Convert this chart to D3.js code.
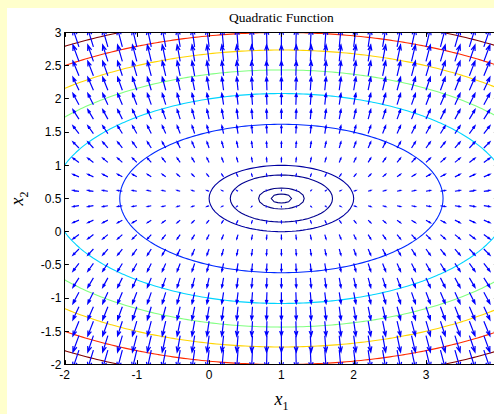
<!DOCTYPE html>
<html>
<head>
<meta charset="utf-8">
<script src="https://cdn.jsdelivr.net/npm/d3@7"></script>
<style>
  html, body { margin: 0; padding: 0; background: #ffffcc; }
  svg { display: block; }
</style>
</head>
<body>
<div id="chart"></div>
<script>
const center = [1, 0.5];
const weights = [1, 4];
const levels = [0.02, 0.1, 0.5, 1, 5, 10, 15, 20, 25, 30];
const colorLimits = [0, 30];
const xTicks = [-2, -1, 0, 1, 2, 3];
const yTicks = [-2, -1.5, -1, -0.5, 0, 0.5, 1, 1.5, 2, 2.5, 3];
const xDomain = [-2, 4];
const yDomain = [-2, 3];
const quiverX = [-2, 4, 31];   // start, stop, count
const quiverY = [-2, 3, 24];
const title = 'Quadratic Function';

const width = 494, height = 414;
const plotLeft = 64.5, plotTop = 32.5, plotBottom = 364.5, pxPerX = 72.3;

const f = (a, b) => weights[0] * (a - center[0]) ** 2 + weights[1] * (b - center[1]) ** 2;
const grad = (a, b) => [2 * weights[0] * (a - center[0]), 2 * weights[1] * (b - center[1])];

// matlab jet
function jet(t) {
  const c = v => Math.max(0, Math.min(1, v));
  const r = c(1.5 - Math.abs(4 * t - 3)), g = c(1.5 - Math.abs(4 * t - 2)), b = c(1.5 - Math.abs(4 * t - 1));
  return d3.rgb(r * 255, g * 255, b * 255).formatHex();
}

const x = d3.scaleLinear().domain(xDomain).range([plotLeft, plotLeft + pxPerX * (xDomain[1] - xDomain[0])]);
const y = d3.scaleLinear().domain(yDomain).range([plotBottom, plotTop]);
const plotRight = x.range()[1];

const svg = d3.select('#chart').append('svg')
  .attr('width', width).attr('height', height);

svg.append('rect').attr('x', 7).attr('y', 8)
  .attr('width', width - 7).attr('height', height - 8).attr('fill', '#ffffff');

svg.append('defs').append('clipPath').attr('id', 'plot-clip')
  .append('rect').attr('x', plotLeft).attr('y', plotTop)
  .attr('width', plotRight - plotLeft).attr('height', plotBottom - plotTop);

const plot = svg.append('g').attr('clip-path', 'url(#plot-clip)');

// contours on a fine grid larger than the axes so the open ones don't close along the box
const step = 0.05, gx0 = -3, gy0 = -3, nx = 161, ny = 141;
const values = new Array(nx * ny);
for (let j = 0; j < ny; j++)
  for (let i = 0; i < nx; i++)
    values[j * nx + i] = f(gx0 + i * step, gy0 + j * step);

const contours = d3.contours().size([nx, ny]).thresholds(levels)(values);
const proj = d3.geoTransform({
  point: function(px, py) {
    this.stream.point(x(gx0 + (px - 0.5) * step), y(gy0 + (py - 0.5) * step));
  }
});
const color = v => jet((v - colorLimits[0]) / (colorLimits[1] - colorLimits[0]));

plot.selectAll('.contour')
  .data(contours)
  .enter().append('path')
  .attr('class', 'contour')
  .attr('d', d3.geoPath(proj))
  .attr('fill', 'none')
  .attr('stroke', d => color(d.value))
  .attr('stroke-width', 1.1);

// quiver, autoscaled roughly the way matlab does it
const qx = d3.range(quiverX[2]).map(i => quiverX[0] + i * (quiverX[1] - quiverX[0]) / (quiverX[2] - 1));
const qy = d3.range(quiverY[2]).map(j => quiverY[0] + j * (quiverY[1] - quiverY[0]) / (quiverY[2] - 1));
const pts = [];
qy.forEach(b => qx.forEach(a => { const g = grad(a, b); pts.push({ a, b, u: g[0], v: g[1] }); }));

const delx = (quiverX[1] - quiverX[0]) / quiverX[2];
const dely = (quiverY[1] - quiverY[0]) / quiverY[2];
const del = delx * delx + dely * dely;
const maxlen = d3.max(pts, p => Math.sqrt((p.u * p.u + p.v * p.v) / del));
const scale = 1.1 / maxlen;
const alpha = 0.33, beta = 0.33;

function arrowPath(p) {
  const u = p.u * scale, v = p.v * scale;
  const tx = p.a + u, ty = p.b + v;
  const h1 = [tx - alpha * (u + beta * v), ty - alpha * (v - beta * u)];
  const h2 = [tx - alpha * (u - beta * v), ty - alpha * (v + beta * u)];
  return 'M' + x(p.a) + ',' + y(p.b) + 'L' + x(tx) + ',' + y(ty) +
    'M' + x(h1[0]) + ',' + y(h1[1]) + 'L' + x(tx) + ',' + y(ty) + 'L' + x(h2[0]) + ',' + y(h2[1]);
}

plot.selectAll('.arrow')
  .data(pts)
  .enter().append('path')
  .attr('class', 'arrow')
  .attr('d', arrowPath)
  .attr('fill', 'none')
  .attr('stroke', '#0000ff')
  .attr('stroke-width', 1.2);

// axes box and inward ticks
const axes = svg.append('g').attr('stroke', '#000').attr('fill', 'none');
axes.append('rect').attr('x', plotLeft).attr('y', plotTop)
  .attr('width', plotRight - plotLeft).attr('height', plotBottom - plotTop).attr('stroke-width', 1);
const tl = 4.4;
xTicks.forEach(t => {
  const px = Math.round(x(t)) + 0.5;
  axes.append('line').attr('x1', px).attr('x2', px).attr('y1', plotBottom).attr('y2', plotBottom - tl);
  axes.append('line').attr('x1', px).attr('x2', px).attr('y1', plotTop).attr('y2', plotTop + tl);
});
yTicks.forEach(t => {
  const py = Math.round(y(t) - 0.5) + 0.5;
  axes.append('line').attr('x1', plotLeft).attr('x2', plotLeft + tl).attr('y1', py).attr('y2', py);
  axes.append('line').attr('x1', plotRight).attr('x2', plotRight - tl).attr('y1', py).attr('y2', py);
});

const labels = svg.append('g').attr('font-family', '"Liberation Sans", Arial, sans-serif')
  .attr('font-size', 12).attr('fill', '#000');
labels.selectAll('.xt').data(xTicks).enter().append('text')
  .attr('x', d => x(d)).attr('y', plotBottom + 14)
  .attr('text-anchor', 'middle').text(d => d);
labels.selectAll('.yt').data(yTicks).enter().append('text')
  .attr('x', plotLeft - 3).attr('y', d => y(d) + 4.3)
  .attr('text-anchor', 'end').text(d => d);

svg.append('text')
  .attr('x', (plotLeft + plotRight) / 2).attr('y', 22)
  .attr('text-anchor', 'middle')
  .attr('font-family', '"Liberation Serif", "Times New Roman", serif')
  .attr('font-size', 13.5).text(title);

const xl = svg.append('text')
  .attr('x', x(1)).attr('y', 405)
  .attr('text-anchor', 'middle')
  .attr('font-family', '"Liberation Serif", "Times New Roman", serif')
  .attr('font-size', 18).attr('font-style', 'italic');
xl.append('tspan').text('x');
xl.append('tspan').attr('font-style', 'normal').attr('font-size', 12).attr('dy', 5).text('1');

const yl = svg.append('text')
  .attr('transform', 'translate(23,' + (plotTop + plotBottom) / 2 + ') rotate(-90)')
  .attr('text-anchor', 'middle')
  .attr('font-family', '"Liberation Serif", "Times New Roman", serif')
  .attr('font-size', 18).attr('font-style', 'italic');
yl.append('tspan').text('x');
yl.append('tspan').attr('font-style', 'normal').attr('font-size', 12).attr('dy', 5).text('2');
</script>
</body>
</html>
